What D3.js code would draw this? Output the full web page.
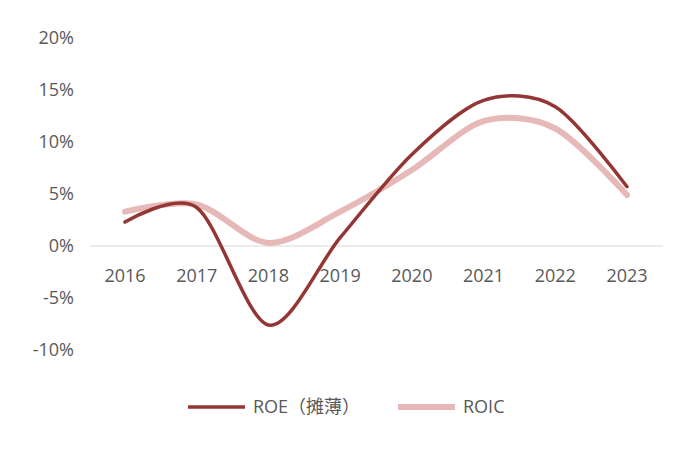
<!DOCTYPE html>
<html><head><meta charset="utf-8">
<script src="https://cdn.jsdelivr.net/npm/d3@7"></script>
<style>body{margin:0;background:#fff}text{font-family:"Open Sans","Noto Sans CJK SC",sans-serif}</style>
</head><body>
<svg width="700" height="450"></svg>
<script>
const years = ["2016","2017","2018","2019","2020","2021","2022","2023"];
const roe = [2.3, 3.7, -7.6, 0.8, 8.8, 14.0, 13.4, 5.7];
const roic = [3.3, 4.0, 0.3, 3.3, 7.3, 12.0, 11.3, 4.9];
const yTicks = [-10, -5, 0, 5, 10, 15, 20];

const svg = d3.select("svg");
const x = d3.scalePoint().domain(years).range([125, 627]);
const y = d3.scaleLinear().domain([-10, 20]).range([350, 38]);

svg.append("line").attr("x1", 90).attr("x2", 663)
  .attr("y1", y(0)).attr("y2", y(0)).attr("stroke", "#d9d9d9").attr("stroke-width", 1);

svg.selectAll(".yt").data(yTicks).join("text")
  .attr("x", 74).attr("y", d => y(d)).attr("dy", "0.35em")
  .attr("text-anchor", "end").attr("font-size", 18).attr("fill", "#595959")
  .text(d => d + "%");

svg.selectAll(".xt").data(years).join("text")
  .attr("x", d => x(d)).attr("y", 282)
  .attr("text-anchor", "middle").attr("font-size", 18).attr("fill", "#595959")
  .text(d => d);

const line = d3.line().x((d, i) => x(years[i])).y(d => y(d)).curve(d3.curveCardinal.tension(0.1));

svg.append("path").attr("d", line(roic)).attr("fill", "none")
  .attr("stroke", "#e6b9b8").attr("stroke-width", 6).attr("stroke-linecap", "round");
svg.append("path").attr("d", line(roe)).attr("fill", "none")
  .attr("stroke", "#943634").attr("stroke-width", 3.5).attr("stroke-linecap", "round");

const legend = [["ROE（摊薄）", "#943634", 3.5, 188], ["ROIC", "#e6b9b8", 6, 398]];
legend.forEach(([t, c, w, lx]) => {
  svg.append("line").attr("x1", lx).attr("x2", lx + 57).attr("y1", 407).attr("y2", 407)
    .attr("stroke", c).attr("stroke-width", w);
  svg.append("text").attr("x", lx + 65).attr("y", 407).attr("dy", "0.35em")
    .attr("font-size", 18).attr("fill", "#595959").text(t);
});
</script>
</body></html>
